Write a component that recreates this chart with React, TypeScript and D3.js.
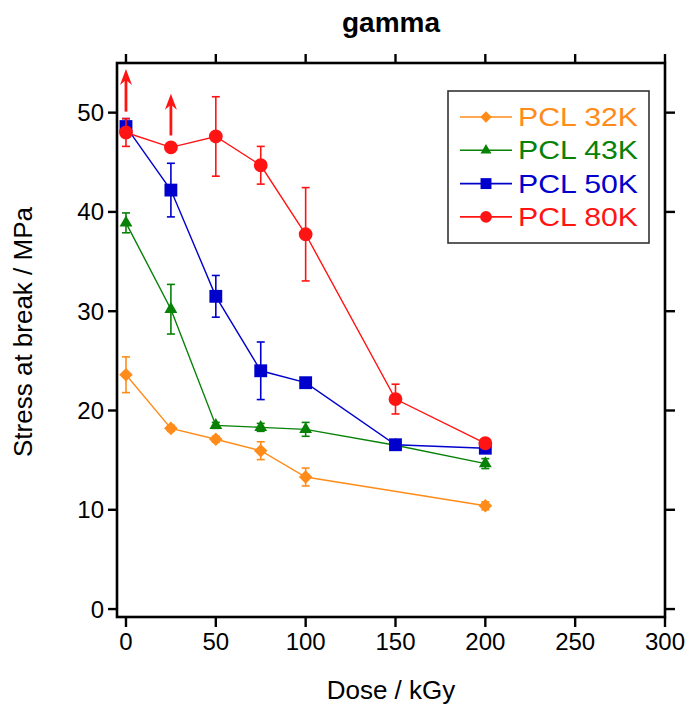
import React from "react";
import * as d3 from "d3";

// ---- data ----
const dose32 = [0, 25, 50, 75, 100, 200];
const stress32 = [23.6, 18.2, 17.1, 15.95, 13.3, 10.4];
const err32 = [1.8, 0.3, 0.3, 0.9, 0.9, 0.4];

const dose43 = [0, 25, 50, 75, 100, 150, 200];
const stress43 = [38.9, 30.2, 18.5, 18.3, 18.1, 16.5, 14.65];
const err43 = [1.0, 2.5, 0.3, 0.4, 0.7, 0.3, 0.5];

const dose50 = [0, 25, 50, 75, 100, 150, 200];
const stress50 = [48.6, 42.2, 31.5, 24.0, 22.8, 16.55, 16.2];
const err50 = [0.8, 2.7, 2.1, 2.9, 0.3, 0.3, 0.3];

const dose80 = [0, 25, 50, 75, 100, 150, 200];
const stress80 = [48.0, 46.5, 47.6, 44.7, 37.75, 21.15, 16.7];
const err80 = [1.4, 0.3, 4.0, 1.9, 4.7, 1.5, 0.3];

const seriesNames = ["PCL 32K", "PCL 43K", "PCL 50K", "PCL 80K"];

// red arrows (dose, start value, end value)
const arrowDose = [0, 25];
const arrowFrom = [50.1, 47.7];
const arrowTo = [54.4, 51.9];

const xTicks = [0, 50, 100, 150, 200, 250, 300];
const yTicks = [0, 10, 20, 30, 40, 50];

const title = "gamma";
const xLabel = "Dose / kGy";
const yLabel = "Stress at break / MPa";

// ---- layout ----
const W = 696;
const H = 714;
const L = 117, R = 665, T = 63, B = 617;
const FONT = "'Liberation Sans', Arial, sans-serif";

const x = d3.scaleLinear().domain([-5, 300]).range([L, R]);
const y = d3.scaleLinear().domain([-0.8, 55]).range([B, T]);

const diamond = {
  draw(ctx: any, size: number) {
    const r = Math.sqrt(size / 2);
    ctx.moveTo(0, -r);
    ctx.lineTo(r, 0);
    ctx.lineTo(0, r);
    ctx.lineTo(-r, 0);
    ctx.closePath();
  },
};

const styles = [
  { color: "#FF8C1A", symbol: d3.symbol().type(diamond as any).size(92)() as string },
  { color: "#078207", symbol: d3.symbol().type(d3.symbolTriangle).size(72)() as string },
  { color: "#0000CC", symbol: d3.symbol().type(d3.symbolSquare).size(165)() as string },
  { color: "#FF1414", symbol: d3.symbol().type(d3.symbolCircle).size(150)() as string },
];

const seriesData = [
  { dose: dose32, stress: stress32, err: err32 },
  { dose: dose43, stress: stress43, err: err43 },
  { dose: dose50, stress: stress50, err: err50 },
  { dose: dose80, stress: stress80, err: err80 },
];

export default function App() {
  const line = d3
    .line<[number, number]>()
    .x((d) => x(d[0]))
    .y((d) => y(d[1]));

  return (
    <svg
      width={W}
      height={H}
      style={{ position: "absolute", left: 0, top: 0, background: "#fff" }}
      fontFamily={FONT}
    >
      <rect x={0} y={0} width={W} height={H} fill="#fff" />
      {/* title */}
      <text x={391} y={32} textAnchor="middle" fontSize={28} fontWeight="bold" fill="#000">
        {title}
      </text>

      {/* series */}
      {seriesData.map((s, si) => {
        const st = styles[si];
        const pts = s.dose.map((d, i) => [d, s.stress[i]] as [number, number]);
        return (
          <g key={si}>
            <path d={line(pts) as string} fill="none" stroke={st.color} strokeWidth={1.4} />
            {s.dose.map((d, i) => {
              const cx = x(d);
              const y1 = y(s.stress[i] + s.err[i]);
              const y2 = y(s.stress[i] - s.err[i]);
              return (
                <g key={i} stroke={st.color} strokeWidth={1.6}>
                  <line x1={cx} x2={cx} y1={y1} y2={y2} />
                  <line x1={cx - 4} x2={cx + 4} y1={y1} y2={y1} />
                  <line x1={cx - 4} x2={cx + 4} y1={y2} y2={y2} />
                </g>
              );
            })}
            {s.dose.map((d, i) => (
              <path
                key={"m" + i}
                d={st.symbol}
                transform={`translate(${x(d)},${y(s.stress[i])})`}
                fill={st.color}
              />
            ))}
          </g>
        );
      })}

      {/* arrows */}
      {arrowDose.map((d, i) => {
        const ax = x(d);
        const y0 = y(arrowFrom[i]);
        const y1 = y(arrowTo[i]);
        return (
          <g key={"a" + i}>
            <line x1={ax} x2={ax} y1={y0} y2={y1 + 6} stroke="#FF1414" strokeWidth={2.8} />
            <path
              d={`M${ax},${y1} L${ax + 6},${y1 + 16} L${ax},${y1 + 11} L${ax - 6},${y1 + 16} Z`}
              fill="#FF1414"
            />
          </g>
        );
      })}

      {/* frame */}
      <rect x={L} y={T} width={R - L} height={B - T} fill="none" stroke="#000" strokeWidth={2.6} />

      {/* x ticks bottom and top */}
      {xTicks.map((t) => (
        <g key={"xt" + t}>
          <line x1={x(t)} x2={x(t)} y1={B} y2={B + 10} stroke="#000" strokeWidth={2.4} />
          <line x1={x(t)} x2={x(t)} y1={T} y2={T - 9} stroke="#000" strokeWidth={2.4} />
          <text x={x(t)} y={650} textAnchor="middle" fontSize={24} fill="#000">
            {t}
          </text>
        </g>
      ))}

      {/* y ticks left and right */}
      {yTicks.map((t) => (
        <g key={"yt" + t}>
          <line x1={L} x2={L - 9} y1={y(t)} y2={y(t)} stroke="#000" strokeWidth={2.4} />
          <line x1={R} x2={R + 10} y1={y(t)} y2={y(t)} stroke="#000" strokeWidth={2.4} />
          <text x={104} y={y(t) + 8.5} textAnchor="end" fontSize={24} fill="#000">
            {t}
          </text>
        </g>
      ))}

      {/* axis titles */}
      <text x={391} y={699} textAnchor="middle" fontSize={26} fill="#000">
        {xLabel}
      </text>
      <text
        transform={`translate(32,${(T + B) / 2 - 8}) rotate(-90)`}
        textAnchor="middle"
        fontSize={26}
        fill="#000"
      >
        {yLabel}
      </text>

      {/* legend */}
      <rect x={448} y={91} width={201} height={152} fill="#fff" stroke="#333" strokeWidth={1.6} />
      {seriesNames.map((n, i) => {
        const cy = 117 + i * 33.3;
        const st = styles[i];
        return (
          <g key={"l" + i}>
            <line x1={460} x2={512} y1={cy} y2={cy} stroke={st.color} strokeWidth={1.6} />
            <path d={st.symbol} transform={`translate(486,${cy}) scale(0.85)`} fill={st.color} />
            <text
              x={518}
              y={cy + 9}
              fontSize={25}
              fill={st.color}
              textLength={120}
              lengthAdjust="spacingAndGlyphs"
            >
              {n}
            </text>
          </g>
        );
      })}
    </svg>
  );
}
